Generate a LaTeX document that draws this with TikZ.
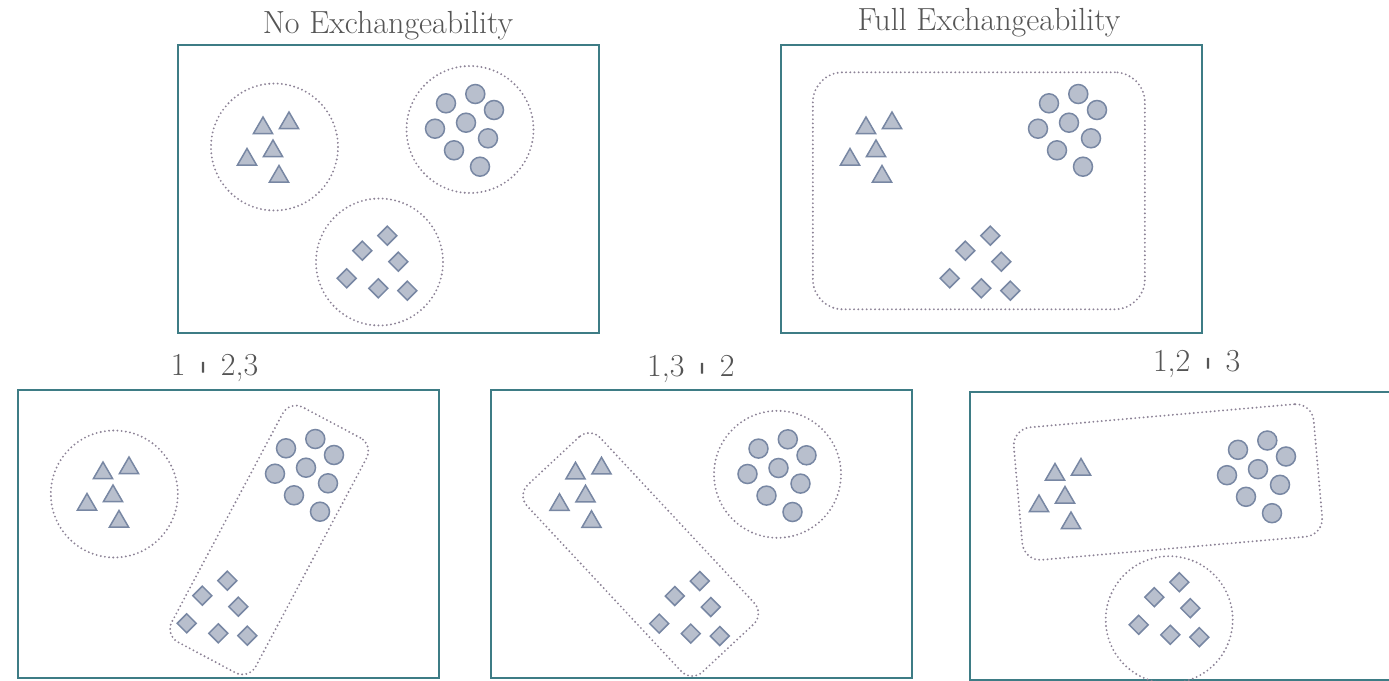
\documentclass[tikz,border=0pt]{standalone}
\usepackage{graphicx}
\usetikzlibrary{shapes.geometric}
\definecolor{frameC}{HTML}{3E7C85}
\definecolor{textC}{HTML}{555555}
\definecolor{enclC}{HTML}{8C8296}
\definecolor{shapeF}{HTML}{B8BFCD}
\definecolor{shapeD}{HTML}{7887A3}
\newcommand\sbar{\raisebox{2.4pt}{\scalebox{1.8}[0.34]{|}}}
\newcommand\groupshapes[1]{%
  \node[tri] (#1t1) at (85,83) {};
  \node[tri] (#1t2) at (111,78) {};
  \node[tri] (#1t3) at (95,106) {};
  \node[tri] (#1t4) at (69,114.5) {};
  \node[tri] (#1t5) at (101,131.5) {};
  \node[ball] (#1c1) at (268,58.3) {};
  \node[ball] (#1c2) at (297.3,49) {};
  \node[ball] (#1c3) at (316,65) {};
  \node[ball] (#1c4) at (257,83.7) {};
  \node[ball] (#1c5) at (288,77.7) {};
  \node[ball] (#1c6) at (310,93.3) {};
  \node[ball] (#1c7) at (276,105.3) {};
  \node[ball] (#1c8) at (302,121.7) {};
  \node[dia] (#1d1) at (209.3,190.7) {};
  \node[dia] (#1d2) at (184.3,205.7) {};
  \node[dia] (#1d3) at (220.3,216.7) {};
  \node[dia] (#1d4) at (168.7,233.3) {};
  \node[dia] (#1d5) at (200.3,243.3) {};
  \node[dia] (#1d6) at (229.3,245.7) {};
}
\tikzset{
  panel/.style={draw=frameC, line width=1pt, rectangle, inner sep=0pt, outer sep=0pt,
    minimum width=210.5pt, minimum height=144pt, anchor=north west},
  tri/.style={regular polygon, regular polygon sides=3, draw=shapeD, fill=shapeF,
    line width=0.75pt, inner sep=0pt, minimum size=11pt},
  ball/.style={circle, draw=shapeD, fill=shapeF, line width=0.75pt, inner sep=0pt, minimum size=9.5pt},
  dia/.style={diamond, aspect=1, draw=shapeD, fill=shapeF, line width=0.75pt, inner sep=0pt, minimum size=9.8pt},
  encl/.style={draw=enclC, line width=1.05pt, dash pattern=on 0pt off 2.1pt, line cap=round, inner sep=0pt},
  ring/.style={encl, circle, minimum size=63.5pt},
  box/.style={encl, rectangle},
  lbl/.style={text=textC, font=\fontsize{16}{19}\selectfont, anchor=base, inner sep=0pt},
}
\begin{document}
\begin{tikzpicture}[x=0.5pt, y=-0.5pt]
\useasboundingbox (0,0) rectangle (1389,681);
\clip (0,0) rectangle (1389,681);
% labels
\node[lbl] (lNo) at (388,33) {No Exchangeability};
\node[lbl] (lFull) at (989,30) {Full Exchangeability};
\node[lbl] (l123) at (214.5,375) {1 \sbar{} 2,3};
\node[lbl] (l132) at (690.8,376.5) {1,3 \sbar{} 2};
\node[lbl] (l213) at (1196.7,371) {1,2 \sbar{} 3};
% top left: no exchangeability
\begin{scope}[shift={(178,45)}]
  \node[panel] (pTL) at (0,0) {};
  \node[ring] (eTLt) at (96.5,102) {};
  \node[ring] (eTLc) at (292,84.5) {};
  \node[ring] (eTLd) at (201.5,217) {};
  \groupshapes{TL}
\end{scope}
% top right: full exchangeability
\begin{scope}[shift={(781,45)}]
  \node[panel] (pTR) at (0,0) {};
  \node[box, rounded corners=15pt, minimum width=166pt, minimum height=118.5pt] (eTR) at (197.85,145.8) {};
  \groupshapes{TR}
\end{scope}
% bottom left: 1 | 2,3
\begin{scope}[shift={(18,390)}]
  \node[panel] (pBL) at (0,0) {};
  \node[ring] (eBLt) at (96.3,104) {};
  \node[box, rounded corners=7.5pt, minimum width=47.5pt, minimum height=133pt, rotate=-28] (eBLcd) at (251.2,150) {};
  \groupshapes{BL}
\end{scope}
% bottom middle: 1,3 | 2
\begin{scope}[shift={(490.5,390.3)}]
  \node[panel] (pBM) at (0,0) {};
  \node[ring] (eBMc) at (287,84) {};
  \node[box, rounded corners=7.5pt, minimum width=50pt, minimum height=128pt, rotate=43] (eBMtd) at (150.2,164.2) {};
  \groupshapes{BM}
\end{scope}
% bottom right: 1,2 | 3
\begin{scope}[shift={(970,391.5)}]
  \node[panel] (pBR) at (0,0) {};
  \node[box, rounded corners=9pt, minimum width=150.5pt, minimum height=66.5pt, rotate=5] (eBRtc) at (198,90.5) {};
  \node[ring] (eBRd) at (199.2,228.2) {};
  \groupshapes{BR}
\end{scope}
\end{tikzpicture}
\end{document}
